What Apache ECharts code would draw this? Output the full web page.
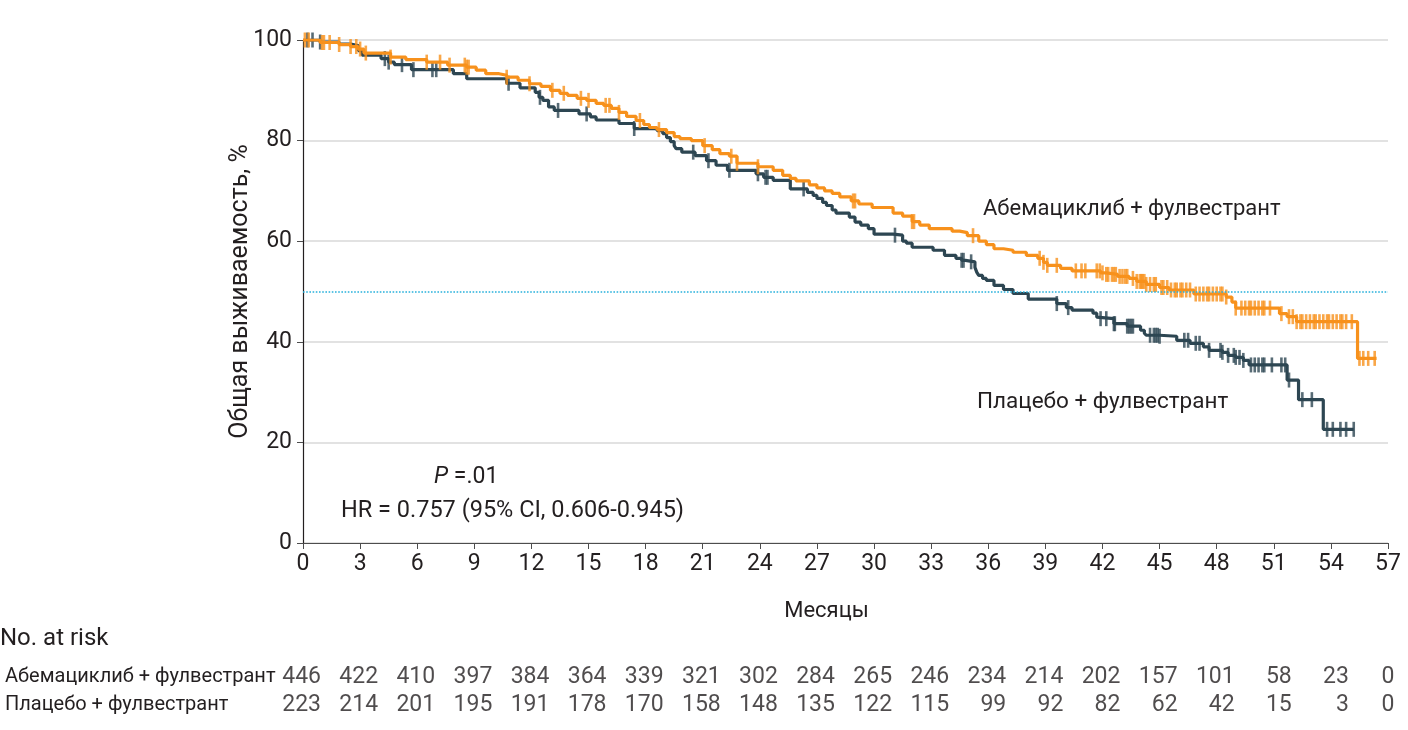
<!DOCTYPE html>
<html>
<head>
<meta charset="utf-8">
<script src="https://cdn.jsdelivr.net/npm/echarts@6/dist/echarts.min.js"></script>
<style>
    html, body {margin: 0; padding: 0; background: #fff;}
    #main {width: 1408px; height: 730px;}
</style>
</head>
<body>
<div id="main"></div>
<script>
// месяцы по оси X, подписи тиков
var xTicks = [0, 3, 6, 9, 12, 15, 18, 21, 24, 27, 30, 33, 36, 39, 42, 45, 48, 51, 54, 57];
var groups = ['Абемациклиб + фулвестрант', 'Плацебо + фулвестрант'];

// число пациентов под риском
var riskAbema = [446, 422, 410, 397, 384, 364, 339, 321, 302, 284, 265, 246, 234, 214, 202, 157, 101, 58, 23, 0];
var riskPlacebo = [223, 214, 201, 195, 191, 178, 170, 158, 148, 135, 122, 115, 99, 92, 82, 62, 42, 15, 3, 0];

// кривая Каплана-Мейера: [месяц, выживаемость %]
var kmAbema = [
    [0, 100], [0.9, 99.5], [1.9, 99.1], [2.5, 98.7], [2.9, 98.2], [3.2, 97.4], [4.6, 96.6],
    [5.4, 96.1], [6.5, 95.6], [7.6, 95.0], [8.6, 94.6], [9.1, 94.0], [9.6, 93.3], [10.3, 93.0],
    [10.7, 92.6], [11.3, 92.0], [11.9, 91.3], [12.5, 90.8], [13.0, 90.0], [13.5, 89.4], [13.9, 89.0],
    [14.4, 88.4], [14.9, 88.0], [15.4, 87.4], [15.8, 87.0], [16.2, 86.4], [16.6, 85.6], [17.0, 84.8],
    [17.5, 84.0], [17.9, 83.2], [18.2, 82.6], [18.6, 82.2], [19.1, 81.6], [19.5, 80.8], [19.8, 80.4],
    [20.4, 80.0], [21.0, 79.0], [21.5, 78.2], [21.9, 77.4], [22.4, 76.9], [22.8, 75.5], [23.9, 74.8],
    [24.7, 74.1], [25.2, 73.1], [25.6, 72.5], [25.9, 72.0], [26.6, 71.2], [27.0, 70.6], [27.4, 70.0],
    [27.8, 69.5], [28.2, 68.8], [28.8, 68.0], [29.2, 67.4], [29.9, 66.7], [31.0, 65.6], [31.5, 65.0],
    [32.0, 63.9], [32.4, 63.2], [32.9, 62.5], [34.1, 62.0], [34.5, 61.7], [34.9, 61.1], [35.5, 60.0],
    [35.9, 59.3], [36.3, 58.5], [36.8, 58.2], [37.3, 57.8], [38.0, 57.2], [38.6, 56.6], [38.9, 55.8],
    [39.1, 55.2], [39.8, 54.6], [40.4, 54.1], [41.9, 53.7], [42.2, 53.4], [42.8, 53.0], [43.4, 52.6],
    [43.8, 52.0], [44.3, 51.4], [45.0, 50.8], [45.5, 50.3], [46.8, 49.5], [48.5, 48.9], [48.8, 47.9],
    [49.0, 46.7], [51.3, 45.6], [51.7, 45.0], [52.2, 44.0], [55.4, 36.7], [56.4, 36.7]
];
var kmPlacebo = [
    [0, 100], [0.9, 99.6], [1.9, 99.2], [2.5, 98.9], [2.9, 97.9], [3.1, 97.0], [4.1, 96.3],
    [4.5, 95.6], [4.8, 95.1], [5.7, 94.1], [7.9, 93.3], [8.6, 92.3], [10.7, 91.4], [11.4, 90.5],
    [12.2, 89.6], [12.4, 88.6], [12.6, 88.0], [12.9, 86.7], [13.2, 86.0], [14.5, 85.3], [15.1, 84.7],
    [15.4, 84.1], [16.6, 83.4], [17.4, 82.4], [18.6, 82.0], [18.9, 81.4], [19.1, 80.6], [19.3, 79.8],
    [19.5, 79.0], [19.6, 78.4], [19.9, 77.7], [20.6, 77.0], [21.2, 76.0], [21.7, 75.1], [22.3, 74.1],
    [23.8, 73.4], [24.2, 72.7], [24.7, 72.1], [25.6, 70.4], [26.5, 69.7], [26.8, 69.1], [27.0, 68.5],
    [27.3, 67.7], [27.5, 67.1], [27.8, 66.2], [28.0, 65.6], [28.7, 64.8], [29.0, 63.8], [29.3, 63.2],
    [29.7, 62.5], [30.0, 61.4], [31.0, 61.2], [31.5, 60.0], [31.7, 59.6], [32.0, 58.8], [33.1, 58.2],
    [33.7, 57.2], [34.3, 56.6], [34.6, 56.2], [34.8, 55.9], [35.3, 54.8], [35.4, 53.8], [35.5, 53.2],
    [35.7, 52.6], [35.9, 52.2], [36.3, 51.2], [36.8, 50.4], [37.3, 49.6], [38.1, 48.5], [39.6, 47.6],
    [40.1, 46.8], [40.4, 46.3], [41.5, 45.7], [41.7, 44.9], [41.8, 44.6], [42.6, 43.6], [43.3, 43.1],
    [44.0, 42.3], [44.2, 41.7], [44.3, 41.3], [45.0, 41.1], [45.9, 40.3], [46.6, 39.7], [47.3, 39.0],
    [47.6, 38.3], [48.3, 37.9], [48.6, 37.3], [49.0, 36.9], [49.4, 36.3], [49.7, 35.4], [51.7, 32.4],
    [52.3, 28.5], [53.6, 22.6], [55.2, 22.6]
];

// цензурированные наблюдения (месяц)
var censAbema = [
    0.1, 0.3, 1.0, 1.1, 1.4, 1.9, 2.5, 2.8, 3.0, 3.3, 4.6, 6.5, 7.2, 7.7, 8.5, 8.6, 8.7, 10.7,
    11.9, 13.1, 13.7, 14.6, 15.0, 15.9, 16.1, 16.6, 17.7, 18.7, 21.1, 22.5, 22.8, 23.9, 28.9, 29.0,
    32.0, 32.1, 35.2, 38.7, 38.9, 39.1, 39.6, 40.6, 40.9, 41.1, 41.7, 41.86, 42.0, 42.2, 42.3, 42.5,
    42.6, 42.7, 42.9, 43.05, 43.2, 43.3, 43.6, 43.8, 43.96, 44.05, 44.1, 44.2, 44.3, 44.5, 44.7, 44.8,
    45.1, 45.2, 45.4, 45.6, 45.8, 45.9, 46.1, 46.2, 46.4, 46.6, 46.9, 47.1, 47.3, 47.5, 47.6, 47.8,
    48.0, 48.2, 48.3, 48.5, 49.0, 49.3, 49.5, 49.7, 49.8, 50.0, 50.2, 50.4, 50.5, 50.8, 51.4, 51.8,
    52.0, 52.2, 52.4, 52.5, 52.7, 52.9, 53.1, 53.2, 53.4, 53.6, 53.8, 53.9, 54.1, 54.3, 54.5, 54.6,
    54.8, 55.1, 55.5, 55.7, 55.96, 56.3
];
var censPlacebo = [
    0.23, 0.5, 0.9, 4.3, 4.5, 5.2, 5.8, 6.8, 7.0, 10.8, 12.45, 13.4, 14.9, 17.4, 20.5, 21.3, 22.4,
    23.9, 24.3, 24.4, 26.3, 31.1, 34.6, 34.7, 35.1, 39.6, 40.2, 41.9, 42.2, 42.6, 42.65, 43.3, 43.4,
    43.5, 43.6, 44.5, 44.7, 44.8, 44.9, 45.0, 46.3, 46.5, 46.9, 47.1, 47.6, 48.2, 48.3, 48.6, 48.9,
    49.0, 49.2, 49.4, 49.8, 50.0, 50.2, 50.4, 50.5, 50.9, 51.4, 51.6, 51.8, 52.5, 53.0, 53.8, 54.1,
    54.5, 54.8, 55.2
];

var ORANGE = '#f7911c';
var DARK = '#2d4652';
var FONT = 'Roboto';

// значение ступенчатой кривой в момент t
function stepAt(curve, t) {
    var v = curve[0][1];
    for (var i = 0; i < curve.length; i++) {
        if (curve[i][0] <= t) v = curve[i][1];
    }
    return v;
}
function censPoints(curve, times) {
    return times.map(function (t) { return [t, stepAt(curve, t)]; });
}
function riskPoints(counts, row) {
    return counts.map(function (n, i) {
        var item = {value: [xTicks[i], row, n]};
        if (i === xTicks.length - 1) {
            item.label = {align: 'center', offset: [0, 0]};
        }
        return item;
    });
}

var chart = echarts.init(document.getElementById('main'));

chart.setOption({
    animation: false,
    textStyle: {fontFamily: FONT},
    grid: [
        {left: 303, right: 20, top: 40, bottom: 187},
        {left: 303, right: 20, top: 663, height: 56}
    ],
    xAxis: [
        {
            type: 'value', min: 0, max: 57, interval: 3,
            name: 'Месяцы', nameLocation: 'middle', nameGap: 57, nameMoveOverlap: false,
            nameTextStyle: {fontSize: 22, color: '#231f20', padding: [0, 38, 0, 0]},
            axisLine: {lineStyle: {color: '#4d4d4d', width: 1.2}},
            axisTick: {length: 6, lineStyle: {color: '#4d4d4d'}},
            axisLabel: {fontSize: 23, color: '#231f20', margin: 10},
            splitLine: {show: false}
        },
        {
            type: 'value', gridIndex: 1, min: 0, max: 57, show: false
        }
    ],
    yAxis: [
        {
            type: 'value', min: 0, max: 100, interval: 20,
            name: 'Общая выживаемость, %', nameLocation: 'middle', nameGap: 50, nameMoveOverlap: false,
            nameTextStyle: {fontSize: 25, color: '#231f20'},
            axisLine: {show: true, lineStyle: {color: '#231f20', width: 1.2}},
            axisTick: {show: true, length: 6, lineStyle: {color: '#4d4d4d'}},
            axisLabel: {fontSize: 23, color: '#231f20', margin: 11},
            splitLine: {lineStyle: {color: '#d9d9d9', width: 1.5}}
        },
        {
            type: 'category', gridIndex: 1, inverse: true, data: groups,
            axisLine: {show: false}, axisTick: {show: false},
            axisLabel: {align: 'left', margin: 298, fontSize: 20, color: '#231f20'}
        }
    ],
    graphic: [
        {type: 'text', left: 983, top: 198, style: {text: 'Абемациклиб + фулвестрант', font: '22px Roboto', fill: '#231f20'}},
        {type: 'text', left: 977, top: 391, style: {text: 'Плацебо + фулвестрант', font: '22.5px Roboto', fill: '#231f20'}},
        {type: 'text', left: 434, top: 466, style: {
            text: '{p|P} =.01',
            font: '23px Roboto', fill: '#231f20',
            rich: {p: {fontStyle: 'italic', fontSize: 23, fontFamily: FONT, color: '#231f20'}}
        }},
        {type: 'text', left: 341, top: 499, style: {text: 'HR = 0.757 (95% CI, 0.606-0.945)', font: '23.5px Roboto', fill: '#231f20'}},
        {type: 'text', left: 0, top: 627, style: {text: 'No. at risk', font: '24px Roboto', fill: '#231f20'}}
    ],
    series: [
        {
            name: groups[1], type: 'line', step: 'end', symbol: 'none',
            data: kmPlacebo,
            lineStyle: {color: DARK, width: 3.2},
            markLine: {
                silent: true, symbol: 'none', label: {show: false},
                lineStyle: {color: '#29b1dc', type: 'dotted', width: 1.6},
                data: [{yAxis: 50}]
            },
            z: 3
        },
        {
            name: groups[1] + ' цензура', type: 'scatter', symbol: 'rect', symbolSize: [2.6, 15],
            data: censPoints(kmPlacebo, censPlacebo),
            itemStyle: {color: DARK}, z: 3
        },
        {
            name: groups[0], type: 'line', step: 'end', symbol: 'none',
            data: kmAbema,
            lineStyle: {color: ORANGE, width: 3.2},
            z: 4
        },
        {
            name: groups[0] + ' цензура', type: 'scatter', symbol: 'rect', symbolSize: [2.6, 15],
            data: censPoints(kmAbema, censAbema),
            itemStyle: {color: ORANGE}, z: 4
        },
        {
            type: 'scatter', xAxisIndex: 1, yAxisIndex: 1, symbolSize: 0,
            data: riskPoints(riskAbema, 0).concat(riskPoints(riskPlacebo, 1)),
            label: {
                show: true, position: 'inside', align: 'right', offset: [18, 0],
                fontSize: 23, color: '#231f20',
                formatter: function (p) { return p.value[2]; }
            }
        }
    ]
});
</script>
</body>
</html>
